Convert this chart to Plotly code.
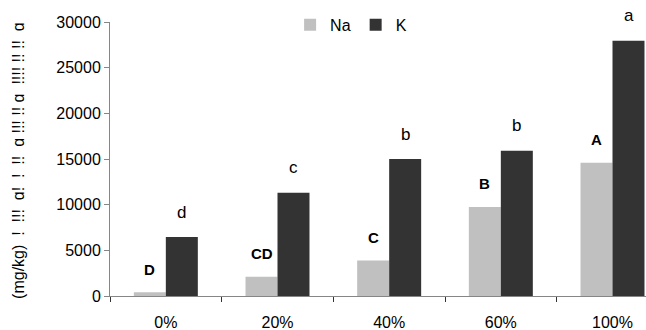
import plotly.graph_objects as go

categories = ["0%", "20%", "40%", "60%", "100%"]
na_values = [400, 2100, 3900, 9750, 14600]
k_values = [6450, 11300, 15000, 15900, 27950]
na_letters = ["D", "CD", "C", "B", "A"]
k_letters = ["d", "c", "b", "b", "a"]
y_ticks = [0, 5000, 10000, 15000, 20000, 25000, 30000]
y_label = "(mg/kg)  !  !!!  ɑ!  !  !!  ɑ !!! !! ɑ  !!!! !! !!  ɑ"

FONT = "Arial, Liberation Sans, sans-serif"

fig = go.Figure()
fig.add_trace(go.Bar(x=categories, y=na_values, name="Na", marker=dict(color="#c0c0c0", line=dict(width=0))))
fig.add_trace(go.Bar(x=categories, y=k_values, name="K", marker=dict(color="#333333", line=dict(width=0))))

annotations = []
for c, v, t in zip(categories, na_values, na_letters):
    annotations.append(dict(x=c, y=v, xref="x", yref="y", text="<b>%s</b>" % t, showarrow=False,
                            xshift=-16, yshift=23, yanchor="middle", font=dict(size=15, color="#000", family=FONT)))
for c, v, t in zip(categories, k_values, k_letters):
    annotations.append(dict(x=c, y=v, xref="x", yref="y", text=t, showarrow=False,
                            xshift=16, yshift=25, yanchor="middle", font=dict(size=17, color="#000", family=FONT)))
annotations.append(dict(x=-0.172, y=0.496, xref="paper", yref="paper", text=y_label, showarrow=False,
                        textangle=-90, xanchor="center", yanchor="middle",
                        font=dict(size=16, color="#000", family=FONT)))

fig.update_layout(
    width=646, height=330,
    margin=dict(l=110, r=0, t=22, b=34),
    paper_bgcolor="white", plot_bgcolor="white",
    font=dict(family=FONT, size=16, color="#000"),
    barmode="group", bargap=0.427, bargroupgap=0,
    showlegend=True,
    legend=dict(orientation="h", x=0.336, y=0.99, xanchor="left", yanchor="middle",
                font=dict(size=16, family=FONT), itemwidth=30, bgcolor="rgba(0,0,0,0)",
                tracegroupgap=0),
    annotations=annotations,
)
fig.update_xaxes(type="category", range=[-0.5, 4.3], showline=True, linecolor="#868686", linewidth=1,
                 ticks="outside", tickson="boundaries", ticklen=5, tickcolor="#333", showgrid=False,
                 ticklabelstandoff=12, tickfont=dict(size=16, family=FONT))
fig.update_yaxes(range=[0, 30000], tickvals=y_ticks, tickformat="d", showline=True, linecolor="#868686", linewidth=1,
                 ticks="outside", ticklen=5, tickcolor="#868686", showgrid=False, zeroline=False,
                 tickfont=dict(size=16, family=FONT))

fig.write_html("out.html")
